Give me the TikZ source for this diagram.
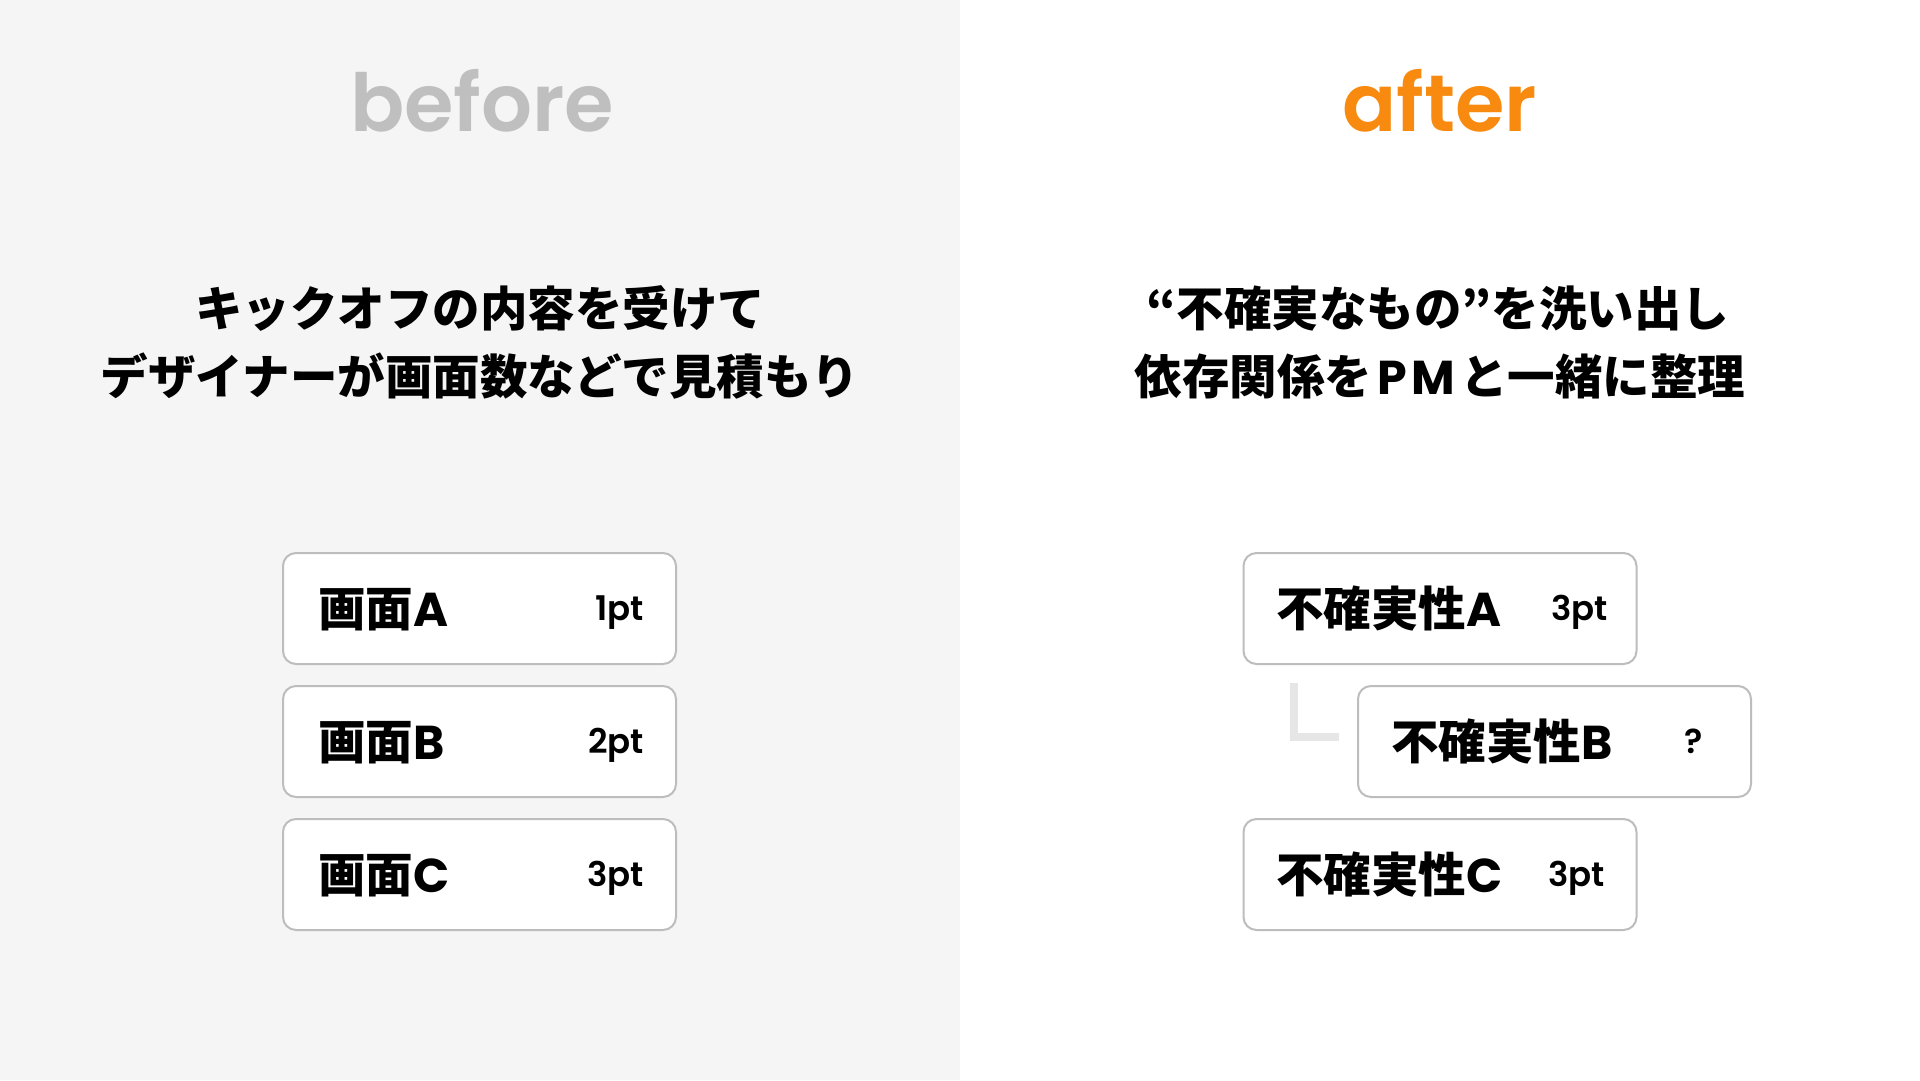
\documentclass[tikz,border=0pt]{standalone}
\usepackage{fontspec}
\newfontfamily\jp{Noto Sans CJK JP}
\newfontfamily\pop{Poppins}
\newfontfamily\popsb{Poppins}[UprightFont=* SemiBold]
\definecolor{leftbg}{HTML}{F5F5F5}
\definecolor{boxline}{HTML}{BDBDBD}
\definecolor{titlegray}{HTML}{BFBFBF}
\definecolor{orangeT}{HTML}{F78A0F}
\definecolor{linkgray}{HTML}{E6E6E6}
\tikzset{
  card/.style={draw=boxline, line width=2pt, fill=white, rounded corners=13pt, minimum height=111pt, minimum width=393pt, inner sep=0pt},
  lbl/.style={anchor=base west, inner sep=0pt, font=\jp\bfseries\fontsize{47.5}{50}\selectfont},
  pts/.style={anchor=base west, inner sep=0pt, font=\popsb\fontsize{34}{36}\selectfont},
  head/.style={anchor=base, inner sep=0pt, font=\jp\bfseries\fontsize{47.5}{50}\selectfont},
  ttl/.style={anchor=base, inner sep=0pt, font=\popsb\fontsize{80}{82}\selectfont},
}
\begin{document}
\begin{tikzpicture}[x=1pt,y=-1pt]
\useasboundingbox (0,0) rectangle (1920,1080);
\fill[leftbg] (0,0) rectangle (960,1080);
\fill[white] (960,0) rectangle (1920,1080);

% titles
\node[ttl, text=titlegray] (tb) at (482,131) {before};
\node[ttl, text=orangeT] (ta) at (1440,131) {after};

% headlines
\node[head] (h1) at (480,326) {キックオフの内容を受けて};
\node[head] (h2) at (480,394) {デザイナーが画面数などで見積もり};
\node[head] (h3) at (1438,326) {“不確実なもの”を洗い出し};
\node[head] (h4) at (1440,394) {依存関係を\hspace{5pt}{\pop P\hspace{5pt}M}\hspace{5pt}と一緒に整理};

% left cards
\node[card] (la) at (479.5,608.5) {};
\node[card] (lb) at (479.5,741.5) {};
\node[card] (lc) at (479.5,874.5) {};
\node[lbl] (lat) at (318,626) {画面{\pop A}};
\node[lbl] (lbt) at (318,759) {画面{\pop B}};
\node[lbl] (lct) at (318,892) {画面{\pop C}};
\node[pts, anchor=base east] (lap) at (644,620) {1pt};
\node[pts, anchor=base east] (lbp) at (644,753) {2pt};
\node[pts, anchor=base east] (lcp) at (644,886) {3pt};

% right cards
\node[card] (ra) at (1440,608.5) {};
\node[card] (rb) at (1554.5,741.5) {};
\node[card] (rc) at (1440,874.5) {};
\node[lbl] (rat) at (1276,626) {不確実性{\pop A}};
\node[lbl] (rbt) at (1391,759) {不確実性{\pop B}};
\node[lbl] (rct) at (1276,892) {不確実性{\pop C}};
\node[pts] (rap) at (1551,620) {3pt};
\node[pts] (rbp) at (1684,753) {?};
\node[pts] (rcp) at (1548,886) {3pt};

% dependency mark
\coordinate (l1) at (1294,683);
\coordinate (l2) at (1294,737);
\coordinate (l3) at (1339,737);
\draw[linkgray, line width=8pt, line join=miter] (l1) -- (l2) -- (l3);
\end{tikzpicture}
\end{document}
